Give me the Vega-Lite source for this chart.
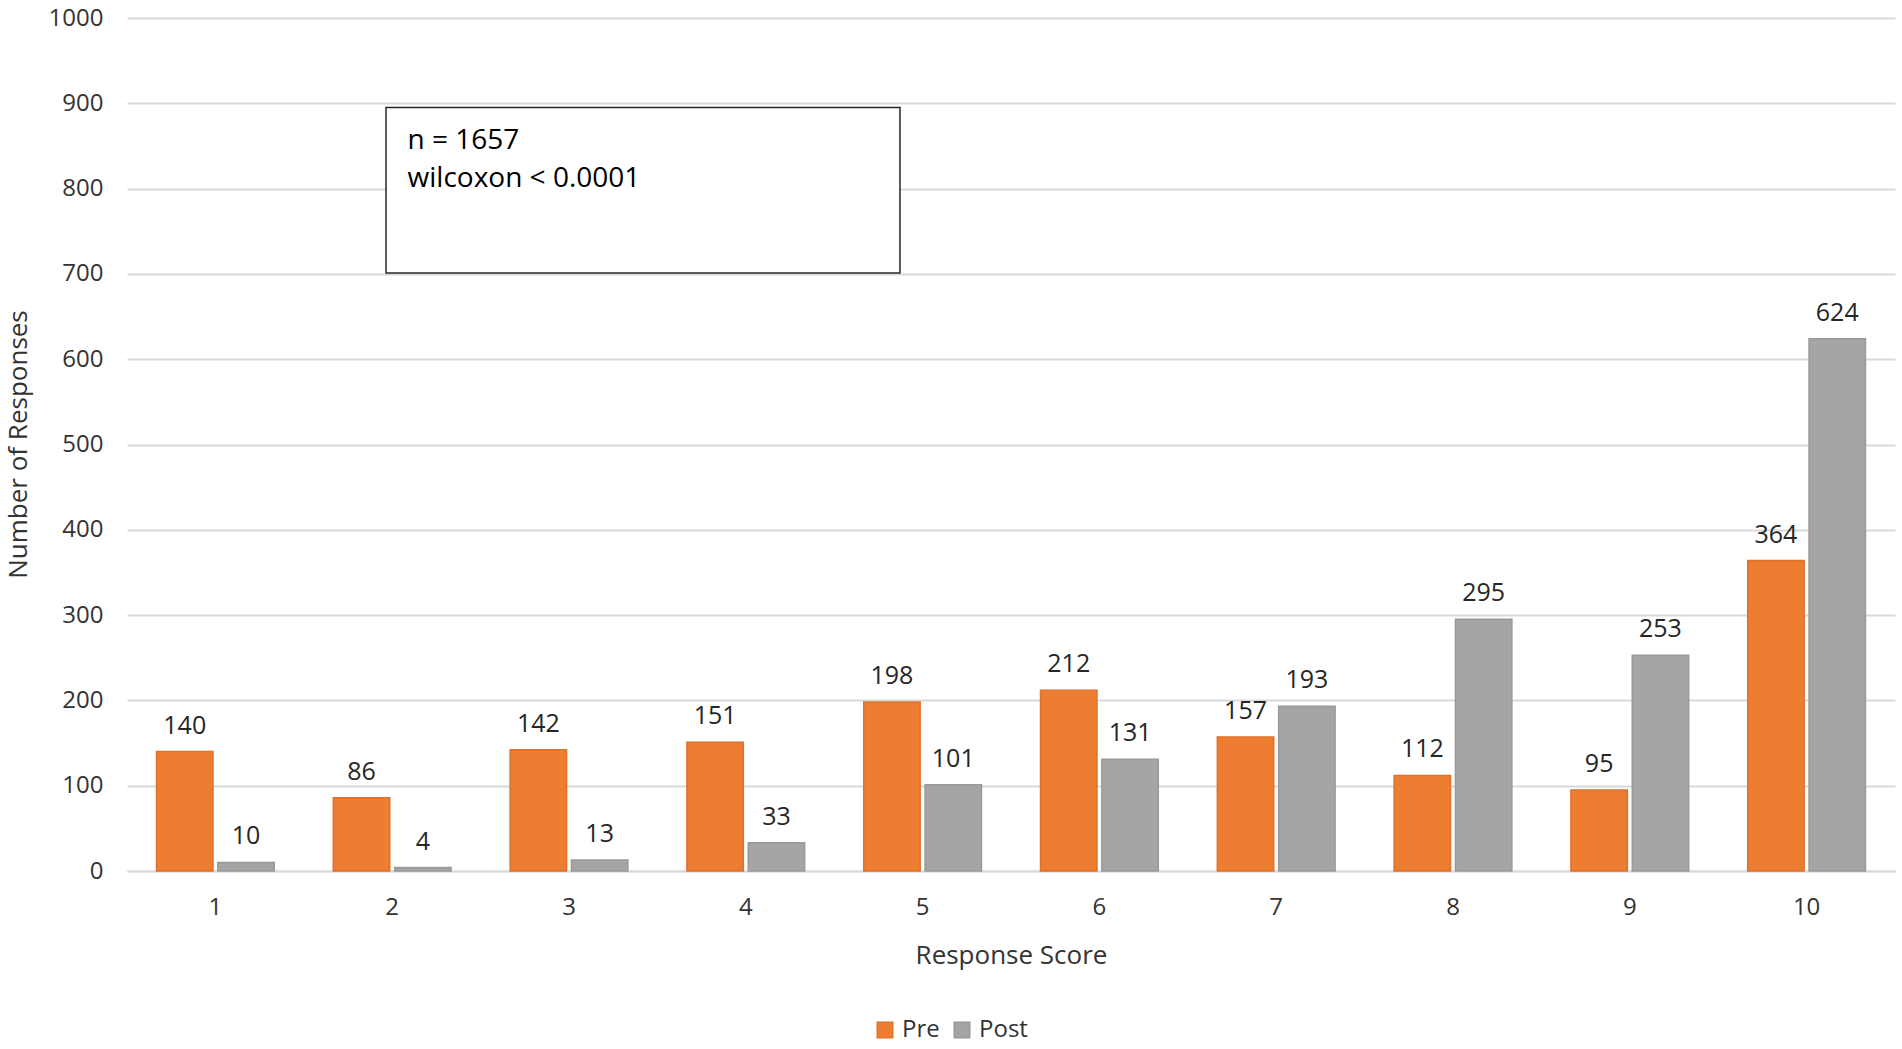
{
  "$schema": "https://vega.github.io/schema/vega-lite/v6.json",
  "description": "Pre/post response score distribution, grouped bars with value labels",
  "autosize": {"type": "none"},
  "width": 1768,
  "height": 853,
  "padding": {"left": 127, "top": 18, "right": 7, "bottom": 178},
  "background": "white",
  "config": {
    "font": "Open Sans",
    "view": {"stroke": null},
    "text": {"font": "Open Sans"}
  },
  "datasets": {
    "counts": [
      {"score": 1, "phase": "Pre", "n": 140}, {"score": 1, "phase": "Post", "n": 10},
      {"score": 2, "phase": "Pre", "n": 86}, {"score": 2, "phase": "Post", "n": 4},
      {"score": 3, "phase": "Pre", "n": 142}, {"score": 3, "phase": "Post", "n": 13},
      {"score": 4, "phase": "Pre", "n": 151}, {"score": 4, "phase": "Post", "n": 33},
      {"score": 5, "phase": "Pre", "n": 198}, {"score": 5, "phase": "Post", "n": 101},
      {"score": 6, "phase": "Pre", "n": 212}, {"score": 6, "phase": "Post", "n": 131},
      {"score": 7, "phase": "Pre", "n": 157}, {"score": 7, "phase": "Post", "n": 193},
      {"score": 8, "phase": "Pre", "n": 112}, {"score": 8, "phase": "Post", "n": 295},
      {"score": 9, "phase": "Pre", "n": 95}, {"score": 9, "phase": "Post", "n": 253},
      {"score": 10, "phase": "Pre", "n": 364}, {"score": 10, "phase": "Post", "n": 624}
    ],
    "note": [
      {"x1": 1.965, "x2": 4.872, "y1": 701, "y2": 895}
    ],
    "noteText": [
      {"x": 2.087, "y": 856, "label": "n = 1657"},
      {"x": 2.087, "y": 811, "label": "wilcoxon < 0.0001"}
    ]
  },
  "layer": [
    {
      "data": {"name": "counts"},
      "encoding": {
        "x": {
          "field": "score", "type": "ordinal", "title": "Response Score",
          "scale": {"paddingInner": 0.334, "paddingOuter": 0.167},
          "axis": {
            "labelAngle": 0, "labelFontSize": 24, "labelColor": "#333333", "labelPadding": 24,
            "ticks": false, "domainColor": "#d9d9d9", "domainWidth": 2,
            "titleFontSize": 26, "titleFontWeight": "normal", "titleColor": "#333333",
            "titleY": 84, "titleBaseline": "middle"
          }
        },
        "xOffset": {"field": "phase", "sort": ["Pre", "Post"], "scale": {"paddingInner": 0.08}},
        "y": {
          "field": "n", "type": "quantitative", "title": "Number of Responses",
          "scale": {"domain": [0, 1000]},
          "axis": {
            "values": [0, 100, 200, 300, 400, 500, 600, 700, 800, 900, 1000],
            "format": "d",
            "domain": false, "ticks": false, "labelPadding": 24,
            "labelFontSize": 24, "labelColor": "#333333",
            "gridColor": "#d9d9d9", "gridWidth": 2,
            "titleFontSize": 26, "titleFontWeight": "normal", "titleColor": "#333333",
            "titleX": -109, "titleY": 426, "titleBaseline": "middle"
          }
        }
      },
      "layer": [
        {
          "mark": {"type": "bar", "strokeWidth": 1.5},
          "encoding": {
            "color": {
              "field": "phase", "type": "nominal", "sort": ["Pre", "Post"], "title": null,
              "scale": {"domain": ["Pre", "Post"], "range": ["#ED7D31", "#A5A5A5"]},
              "legend": {
                "orient": "none", "direction": "horizontal", "legendX": 746, "legendY": 1000,
                "symbolType": "square", "symbolSize": 240, "labelFontSize": 24,
                "labelColor": "#333333", "labelOffset": 5, "columnPadding": 10
              }
            },
            "stroke": {
              "field": "phase", "type": "nominal",
              "scale": {"domain": ["Pre", "Post"], "range": ["#E0702A", "#999999"]},
              "legend": null
            }
          }
        },
        {
          "mark": {"type": "text", "fontSize": 25, "color": "#262626", "baseline": "alphabetic", "dy": -18},
          "encoding": {"text": {"field": "n", "type": "quantitative"}}
        }
      ]
    },
    {
      "data": {"name": "note"},
      "mark": {"type": "rect", "fill": "white", "stroke": "#262626", "strokeWidth": 1.5},
      "encoding": {
        "x": {"field": "x1", "type": "quantitative", "scale": {"domain": [0.5, 10.5]}, "axis": null},
        "x2": {"field": "x2"},
        "y": {"field": "y1", "type": "quantitative"},
        "y2": {"field": "y2"}
      }
    },
    {
      "data": {"name": "noteText"},
      "mark": {"type": "text", "align": "left", "baseline": "middle", "fontSize": 28, "color": "#000000"},
      "encoding": {
        "x": {"field": "x", "type": "quantitative", "scale": {"domain": [0.5, 10.5]}, "axis": null},
        "y": {"field": "y", "type": "quantitative"},
        "text": {"field": "label"}
      }
    }
  ],
  "resolve": {"scale": {"x": "independent"}}
}
